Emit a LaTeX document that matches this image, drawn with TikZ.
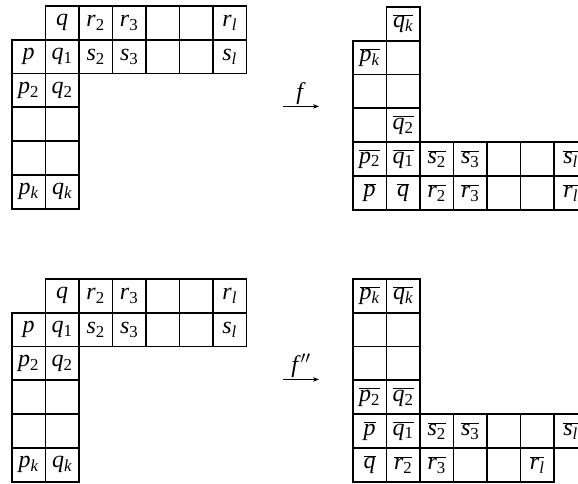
\documentclass[tikz,border=0pt]{standalone}
\usepackage{fontspec}
\setmainfont{Liberation Serif}
\usetikzlibrary{arrows.meta}
\tikzset{
  cell/.style={draw, line width=1.8pt, minimum width=33.5pt, minimum height=33.8pt,
    inner sep=0pt, anchor=north west, font=\fontsize{24}{28}\selectfont},
  maparrow/.style={-{Stealth[length=6pt,width=4.5pt]}, line width=1.1pt},
  maplabel/.style={font=\fontsize{24}{28}\selectfont, above=0pt, inner sep=1pt}
}
\newcommand\vs[2]{\textit{#1}\textsubscript{#2}}
\newcommand\vi[1]{\textit{#1}}
\newcommand\ov[1]{$\overline{\hbox{#1}}$}
\newcommand\ksub{\textit{k}}
\newcommand\lsub{\textit{l}}
\newcommand\gridcells[6]{%
  \foreach \t [count=\c from #5] in {#6} {%
    \node[cell] (#1-#4-\c) at ({#2+33.5*\c},{#3+33.8*#4}) {\t};}}
\begin{document}
\begin{tikzpicture}[x=1pt,y=-1pt]
\clip (0,0) rectangle (578,483);
% top-left grid
\gridcells{tl}{11}{5}{0}{1}{\vi{q},\vs{r}{2},\vs{r}{3},{},{},\vs{r}{\lsub}}
\gridcells{tl}{11}{5}{1}{0}{\vi{p},\vs{q}{1},\vs{s}{2},\vs{s}{3},{},{},\vs{s}{\lsub}}
\gridcells{tl}{11}{5}{2}{0}{\vs{p}{2},\vs{q}{2}}
\gridcells{tl}{11}{5}{3}{0}{{},{}}
\gridcells{tl}{11}{5}{4}{0}{{},{}}
\gridcells{tl}{11}{5}{5}{0}{\vs{p}{\ksub},\vs{q}{\ksub}}
% bottom-left grid
\gridcells{bl}{11}{278}{0}{1}{\vi{q},\vs{r}{2},\vs{r}{3},{},{},\vs{r}{\lsub}}
\gridcells{bl}{11}{278}{1}{0}{\vi{p},\vs{q}{1},\vs{s}{2},\vs{s}{3},{},{},\vs{s}{\lsub}}
\gridcells{bl}{11}{278}{2}{0}{\vs{p}{2},\vs{q}{2}}
\gridcells{bl}{11}{278}{3}{0}{{},{}}
\gridcells{bl}{11}{278}{4}{0}{{},{}}
\gridcells{bl}{11}{278}{5}{0}{\vs{p}{\ksub},\vs{q}{\ksub}}
% top-right grid
\gridcells{tr}{352}{6}{0}{1}{\ov{\vs{q}{\ksub}}}
\gridcells{tr}{352}{6}{1}{0}{\ov{\vs{p}{\ksub}},{}}
\gridcells{tr}{352}{6}{2}{0}{{},{}}
\gridcells{tr}{352}{6}{3}{0}{{},\ov{\vs{q}{2}}}
\gridcells{tr}{352}{6}{4}{0}{\ov{\vs{p}{2}},\ov{\vs{q}{1}},\ov{\vs{s}{2}},\ov{\vs{s}{3}},{},{},\ov{\vs{s}{\lsub}}}
\gridcells{tr}{352}{6}{5}{0}{\ov{\vi{p}},\ov{\vi{q}},\ov{\vs{r}{2}},\ov{\vs{r}{3}},{},{},\ov{\vs{r}{\lsub}}}
% bottom-right grid
\gridcells{br}{352}{278}{0}{0}{\ov{\vs{p}{\ksub}},\ov{\vs{q}{\ksub}}}
\gridcells{br}{352}{278}{1}{0}{{},{}}
\gridcells{br}{352}{278}{2}{0}{{},{}}
\gridcells{br}{352}{278}{3}{0}{\ov{\vs{p}{2}},\ov{\vs{q}{2}}}
\gridcells{br}{352}{278}{4}{0}{\ov{\vi{p}},\ov{\vs{q}{1}},\ov{\vs{s}{2}},\ov{\vs{s}{3}},{},{},\ov{\vs{s}{\lsub}}}
\gridcells{br}{352}{278}{5}{0}{\ov{\vi{q}},\ov{\vs{r}{2}},\ov{\vs{r}{3}},{},{},\ov{\vs{r}{\lsub}}}
% arrows
\coordinate (fa) at (283,106.4);
\coordinate (fb) at (319,106.4);
\draw[maparrow] (fa) -- node[maplabel] {\vi{f}} (fb);
\coordinate (ga) at (283,379.4);
\coordinate (gb) at (319,379.4);
\draw[maparrow] (ga) -- node[maplabel] {\vi{f}$^{\prime\prime}$} (gb);
\end{tikzpicture}
\end{document}
